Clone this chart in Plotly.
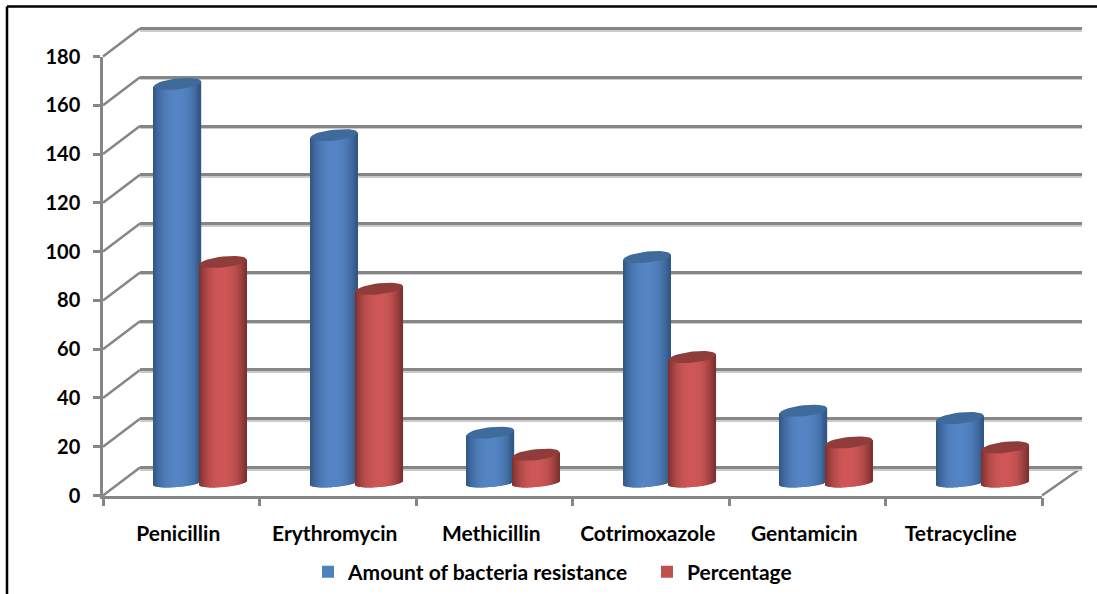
import math
import plotly.graph_objects as go

categories = ["Penicillin", "Erythromycin", "Methicillin", "Cotrimoxazole", "Gentamicin", "Tetracycline"]
resistance = [163, 142, 20, 92, 29, 26]
percentage = [90, 79, 11, 51, 16, 14]
series_names = ["Amount of bacteria resistance", "Percentage"]
y_ticks = [0, 20, 40, 60, 80, 100, 120, 140, 160, 180]

W, H = 1097, 594
FONT = "Lato"
GRID = "#868686"
X0, X1, Y0, Y180 = 103, 1042, 495.5, 56.5
PX = (Y0 - Y180) / 180


def fx(px):
    return px / W


def fy(py):
    return 1 - py / H


def xdom(dx):
    return [fx(X0 + dx), fx(X1 + dx)]


def ydom(dy, low=0, high=0):
    return [fy(Y0 + dy + low * PX), fy(Y180 + dy - high * PX)]


N = 48
HALF = 0.15
OFFS = 0.145
B_TOP = 5.5 / PX
SL_TOP = 2.5 / PX
B_LOW = 4.0 / PX
SL_LOW = 2.0 / PX
LOW_SHIFT = 1.5 / PX


def shade(c, e, u):
    t = abs(u) ** 2.4
    return "rgb(%d,%d,%d)" % tuple(round(c[i] + (e[i] - c[i]) * t) for i in range(3))


def cylinder_trace(values, sign, centre, edge):
    xs, ys, bases, cols = [], [], [], []
    for k, v in enumerate(values):
        for j in range(N):
            u = -1 + (j + 0.5) * 2 / N
            low = -LOW_SHIFT - B_LOW * math.sqrt(1 - u * u) + SL_LOW * u
            xs.append(k + sign * OFFS + u * HALF)
            ys.append(v + SL_TOP * u - low)
            bases.append(low)
            cols.append(shade(centre, edge, u))
    return go.Bar(x=xs, y=ys, base=bases, width=2.6 * HALF / N, xaxis="x3", yaxis="y3",
                  marker=dict(color=cols, line=dict(width=0)), showlegend=False, hoverinfo="skip")


def cap_trace(values, sign, colour):
    xs, ys = [], []
    for k, v in enumerate(values):
        for d in range(0, 361, 10):
            c, s = math.cos(math.radians(d)), math.sin(math.radians(d))
            xs.append(k + sign * OFFS + HALF * 1.01 * c)
            ys.append(v + B_TOP * s + SL_TOP * c)
        xs.append(None)
        ys.append(None)
    return go.Scatter(x=xs, y=ys, xaxis="x3", yaxis="y3", mode="lines", fill="toself",
                      fillcolor=colour, line=dict(width=0, color=colour), showlegend=False,
                      hoverinfo="skip")


fig = go.Figure()
# placeholder traces activating the wall subplots
fig.add_trace(go.Scatter(x=[0], y=[None], xaxis="x", yaxis="y", showlegend=False, hoverinfo="skip"))
fig.add_trace(go.Scatter(x=[0], y=[None], xaxis="x2", yaxis="y2", showlegend=False, hoverinfo="skip"))
fig.add_trace(cylinder_trace(resistance, -1, (84, 132, 195), (48, 84, 130)))
fig.add_trace(cylinder_trace(percentage, 1, (206, 86, 86), (122, 48, 46)))
fig.add_trace(cap_trace(resistance, -1, "#3E6A9C"))
fig.add_trace(cap_trace(percentage, 1, "#8F3C3A"))
fig.add_trace(go.Scatter(x=categories, y=[None] * 6, xaxis="x4", yaxis="y4", showlegend=False, hoverinfo="skip"))
fig.add_trace(go.Bar(x=[None], y=[None], xaxis="x3", yaxis="y3", name=series_names[0], marker_color="#4F81BD", marker_line_width=0, hoverinfo="skip"))
fig.add_trace(go.Bar(x=[None], y=[None], xaxis="x3", yaxis="y3", name=series_names[1], marker_color="#C0504D", marker_line_width=0, hoverinfo="skip"))

shapes = [
    dict(type="line", xref="paper", yref="paper", x0=fx(7), x1=fx(7), y0=0, y1=fy(6.5), line=dict(color="black", width=2.5)),
    dict(type="line", xref="paper", yref="paper", x0=fx(7), x1=1, y0=fy(6.5), y1=fy(6.5), line=dict(color="black", width=2.5)),
]
for v in y_ticks:
    shapes.append(dict(type="line", xref="paper", yref="paper", layer="below",
                       x0=fx(X0), x1=fx(X0 + 37), y0=fy(Y0 - v * PX), y1=fy(Y0 - v * PX - 28),
                       line=dict(color=GRID, width=2.5)))
shapes.append(dict(type="line", xref="paper", yref="paper", layer="below",
                   x0=fx(X1), x1=fx(X1 + 40), y0=fy(Y0), y1=fy(Y0 - 28), line=dict(color=GRID, width=2.5)))

hidden = dict(showgrid=False, zeroline=False, showticklabels=False, ticks="", showline=False)
fig.update_layout(
    width=W, height=H, autosize=False, margin=dict(l=0, r=0, t=0, b=0, autoexpand=False),
    paper_bgcolor="white", plot_bgcolor="rgba(0,0,0,0)", barmode="overlay", shapes=shapes,
    font=dict(family=FONT, color="black"),
    # wall shadow
    xaxis=dict(domain=[fx(140), fx(1082)], range=[0, 1], anchor="y", **hidden),
    yaxis=dict(domain=ydom(-26, low=4, high=4), range=[-4, 184], anchor="x", showgrid=True, gridcolor="#CBCBCB", gridwidth=1.5,
               tickvals=y_ticks, zeroline=False, showticklabels=False, ticks="", showline=False),
    # back wall grid
    xaxis2=dict(domain=[fx(140), fx(1082)], range=[0, 1], anchor="y2", **hidden),
    yaxis2=dict(domain=ydom(-28, low=4, high=4), range=[-4, 184], anchor="x2", showgrid=True, gridcolor=GRID, gridwidth=2.5,
                tickvals=y_ticks, zeroline=False, showticklabels=False, ticks="", showline=False),
    # cylinders at mid depth
    xaxis3=dict(domain=xdom(19), range=[-0.5, 5.5], anchor="y3", **hidden),
    yaxis3=dict(domain=ydom(-14, low=8), range=[-8, 180], anchor="x3", **hidden),
    # front frame
    xaxis4=dict(domain=xdom(0), type="category", categoryorder="array", categoryarray=categories,
                range=[-0.5, 5.5], anchor="y4", tickson="boundaries", ticks="outside", ticklen=8,
                tickwidth=2.5, tickcolor=GRID, showline=True, linecolor=GRID, linewidth=2.5,
                showgrid=False, zeroline=False, ticklabelstandoff=18, ticklabelshift=-3,
                tickfont=dict(family=FONT, size=21, color="black", weight="bold")),
    yaxis4=dict(domain=ydom(0), range=[0, 180], anchor="x4", tickvals=y_ticks, ticks="outside", ticklen=7,
                tickwidth=2.5, tickcolor=GRID, showline=True, linecolor=GRID, linewidth=2.5,
                showgrid=False, zeroline=False, ticklabelstandoff=9,
                tickfont=dict(family=FONT, size=20, color="black", weight="bold")),
    legend=dict(orientation="h", x=fx(308), xanchor="left", y=fy(572), yanchor="middle",
                entrywidth=294, entrywidthmode="pixels",
                font=dict(family=FONT, size=21, color="black", weight="bold"),
                bgcolor="rgba(0,0,0,0)", itemclick=False, itemdoubleclick=False),
)

fig.write_html("out.html", config={"displayModeBar": False},
               post_script="document.body.style.margin='0';document.body.style.overflow='hidden';")
